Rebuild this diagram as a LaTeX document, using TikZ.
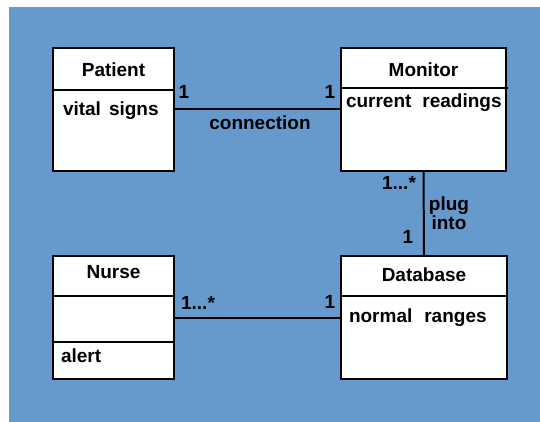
\documentclass[tikz,border=0pt]{standalone}
\usepackage{fontspec}
\setmainfont{Liberation Sans}
\usetikzlibrary{positioning}

\definecolor{bgblue}{RGB}{102,153,204}

\begin{document}
\begin{tikzpicture}[x=1pt,y=-1pt,line width=2pt,
    font=\bfseries\fontsize{19}{21}\selectfont,
    cls/.style={draw,line width=2.4pt,fill=white,inner sep=0pt,
      minimum height=123pt},
    lbl/.style={inner sep=0pt},
    attr/.style={inner sep=0pt,anchor=base west}]

  % background
  \fill[bgblue] (9,7) rectangle (540,422);
  \useasboundingbox (0,0) rectangle (540,422);

  % classes
  \node[cls,minimum width=121pt] (patient) at (113.5,109.5) {};
  \node[cls,minimum width=165pt] (monitor) at (423.5,109.5) {};
  \node[cls,minimum width=121pt] (nurse)   at (113.5,317.5) {};
  \node[cls,minimum width=166pt] (db)      at (424,317.5) {};

  % compartments
  \draw[line width=2.4pt] (patient.west |- 0,90) -- ++(123,0);
  \draw[line width=2.4pt] (monitor.west |- 0,88) -- ++(168,0);
  \draw[line width=2.4pt] (nurse.west |- 0,296) -- ++(123,0);
  \draw[line width=2.4pt] (nurse.west |- 0,342) -- ++(123,0);
  \draw[line width=2.4pt] (db.west |- 0,296) -- ++(168,0);

  % names and attributes
  \node[lbl] (pname) at (113.5,70) {Patient};
  \node[lbl] (mname) at (423.5,70) {Monitor};
  \node[lbl] (nname) at (113.5,272) {Nurse};
  \node[lbl] (dname) at (424,275) {Database};
  \node[attr] (pattr) at (62,116) {vital\hspace{8pt}signs};
  \node[attr] (mattr) at (345,108) {current\hspace{11pt}readings};
  \node[attr] (nattr) at (60,362) {alert};
  \node[attr] (dattr) at (348,322) {normal\hspace{12pt}ranges};

  % associations
  \draw (patient) -- (monitor);
  \draw (monitor) -- (db);
  \draw (nurse) -- (db);

  % multiplicities and roles
  \node[lbl] (m1) at (184,92) {1};
  \node[lbl] (m2) at (330,92) {1};
  \node[lbl] (conn) at (260,123) {connection};
  \node[lbl] (m3) at (399,183) {1...*};
  \node[lbl,align=center,font=\bfseries\fontsize{19}{15}\selectfont] (plug) at (449,213) {plug\\into};
  \node[lbl] (m4) at (408,237) {1};
  \node[lbl] (m5) at (198,303) {1...*};
  \node[lbl] (m6) at (330,302) {1};

\end{tikzpicture}
\end{document}
